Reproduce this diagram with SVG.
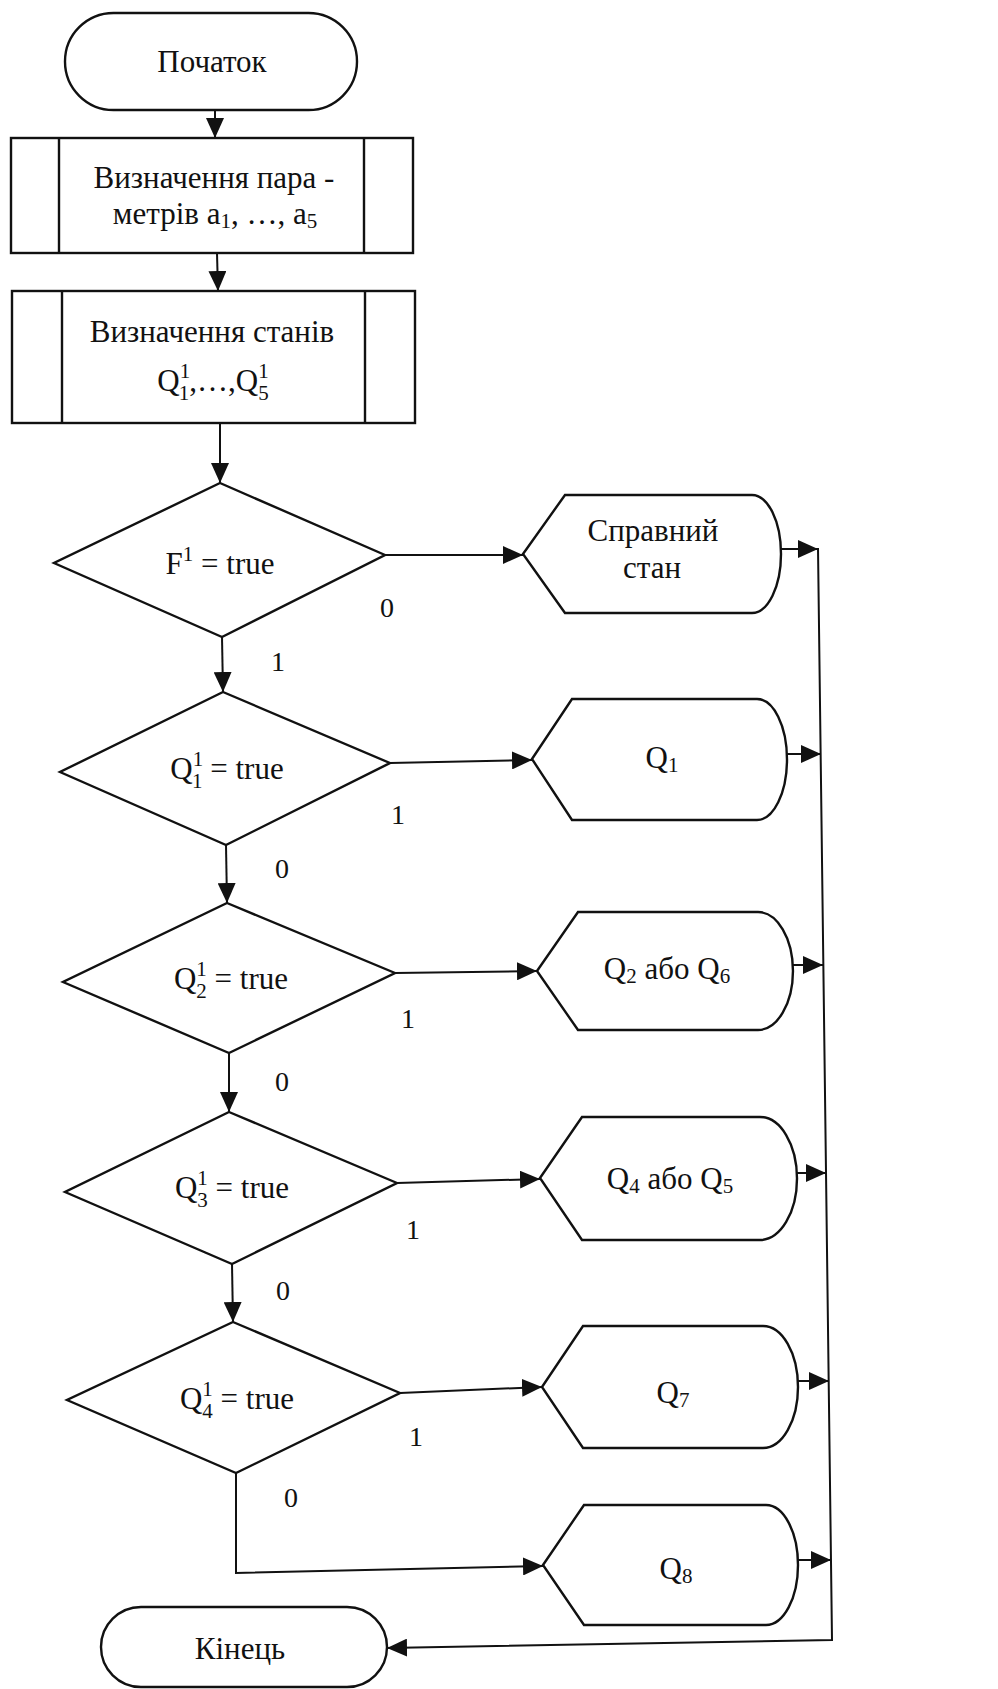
<svg xmlns="http://www.w3.org/2000/svg" width="998" height="1689" viewBox="0 0 998 1689">
<defs>
<style>
.s{fill:#fff;stroke:#111;stroke-width:2.4}
.c{fill:none;stroke:#111;stroke-width:2}
text{font-family:"Liberation Serif","Times New Roman",serif;fill:#111}
.t{font-size:31px;text-anchor:middle}
.l{font-size:28px;text-anchor:middle}
.sm{font-size:21px}
</style>
<marker id="ah" viewBox="0 0 20 18" refX="20" refY="9" markerWidth="20" markerHeight="18" markerUnits="userSpaceOnUse" orient="auto">
<path d="M0,0 L20,9 L0,18 Z" fill="#111"/>
</marker>
</defs>
<rect width="998" height="1689" fill="#fff"/>

<g id="connectors">
<line class="c" x1="215" y1="110" x2="215" y2="138" marker-end="url(#ah)"/>
<line class="c" x1="217" y1="253" x2="218" y2="291" marker-end="url(#ah)"/>
<line class="c" x1="220" y1="423" x2="220" y2="483" marker-end="url(#ah)"/>
<line class="c" x1="222" y1="637" x2="223" y2="692" marker-end="url(#ah)"/>
<line class="c" x1="226" y1="845" x2="227" y2="903" marker-end="url(#ah)"/>
<line class="c" x1="229" y1="1053" x2="229" y2="1112" marker-end="url(#ah)"/>
<line class="c" x1="232" y1="1264" x2="233" y2="1322" marker-end="url(#ah)"/>
<line class="c" x1="385" y1="555" x2="523" y2="555" marker-end="url(#ah)"/>
<line class="c" x1="390" y1="763" x2="532" y2="760" marker-end="url(#ah)"/>
<line class="c" x1="395" y1="973" x2="537" y2="971" marker-end="url(#ah)"/>
<line class="c" x1="397" y1="1183" x2="540" y2="1179" marker-end="url(#ah)"/>
<line class="c" x1="400" y1="1393" x2="542" y2="1387" marker-end="url(#ah)"/>
<polyline class="c" points="236,1473 236,1573 543,1566" marker-end="url(#ah)"/>
<line class="c" x1="781" y1="549" x2="818" y2="549" marker-end="url(#ah)"/>
<line class="c" x1="787" y1="754" x2="821" y2="754" marker-end="url(#ah)"/>
<line class="c" x1="793" y1="965" x2="823" y2="965" marker-end="url(#ah)"/>
<line class="c" x1="797" y1="1173" x2="826" y2="1173" marker-end="url(#ah)"/>
<line class="c" x1="798" y1="1381" x2="829" y2="1381" marker-end="url(#ah)"/>
<line class="c" x1="798" y1="1560" x2="831" y2="1560" marker-end="url(#ah)"/>
<polyline class="c" points="818,548 832,1640 387,1648" marker-end="url(#ah)"/>
<text class="l" x="387" y="617">0</text>
<text class="l" x="278" y="671">1</text>
<text class="l" x="398" y="824">1</text>
<text class="l" x="282" y="878">0</text>
<text class="l" x="408" y="1028">1</text>
<text class="l" x="282" y="1091">0</text>
<text class="l" x="413" y="1239">1</text>
<text class="l" x="283" y="1300">0</text>
<text class="l" x="416" y="1446">1</text>
<text class="l" x="291" y="1507">0</text>
</g>

<g id="start">
<rect class="s" x="65" y="13" width="292" height="97" rx="48.5"/>
<text class="t" x="212" y="72">Початок</text>
</g>

<g id="params">
<rect class="s" x="11" y="138" width="402" height="115"/>
<line class="s" x1="59" y1="138" x2="59" y2="253"/>
<line class="s" x1="364" y1="138" x2="364" y2="253"/>
<text class="t" x="214" y="188">Визначення пара -</text>
<text class="t" x="215" y="224">метрів a<tspan class="sm" dy="4">1</tspan><tspan dy="-4">, …, a</tspan><tspan class="sm" dy="4">5</tspan></text>
</g>

<g id="states">
<rect class="s" x="12" y="291" width="403" height="132"/>
<line class="s" x1="62" y1="291" x2="62" y2="423"/>
<line class="s" x1="365" y1="291" x2="365" y2="423"/>
<text class="t" x="212" y="342">Визначення станів</text>
<text class="t" x="213" y="391">Q<tspan class="sm" dy="-13">1</tspan><tspan class="sm" dx="-10.5" dy="22">1</tspan><tspan dy="-9">,…,Q</tspan><tspan class="sm" dy="-13">1</tspan><tspan class="sm" dx="-10.5" dy="22">5</tspan></text>
</g>

<g id="d1">
<polygon class="s" points="220,483 385,555 222,637 54,563"/>
<text class="t" x="220" y="574">F<tspan class="sm" dy="-13">1</tspan><tspan dy="13"> = true</tspan></text>
</g>
<g id="d2">
<polygon class="s" points="223,692 390,763 226,845 60,772"/>
<text class="t" x="227" y="779">Q<tspan class="sm" dy="-13">1</tspan><tspan class="sm" dx="-10.5" dy="22">1</tspan><tspan dy="-9"> = true</tspan></text>
</g>
<g id="d3">
<polygon class="s" points="227,903 395,973 229,1053 63,982"/>
<text class="t" x="231" y="989">Q<tspan class="sm" dy="-13">1</tspan><tspan class="sm" dx="-10.5" dy="22">2</tspan><tspan dy="-9"> = true</tspan></text>
</g>
<g id="d4">
<polygon class="s" points="229,1112 397,1183 232,1264 65,1192"/>
<text class="t" x="232" y="1198">Q<tspan class="sm" dy="-13">1</tspan><tspan class="sm" dx="-10.5" dy="22">3</tspan><tspan dy="-9"> = true</tspan></text>
</g>
<g id="d5">
<polygon class="s" points="233,1322 400,1393 236,1473 67,1400"/>
<text class="t" x="237" y="1409">Q<tspan class="sm" dy="-13">1</tspan><tspan class="sm" dx="-10.5" dy="22">4</tspan><tspan dy="-9"> = true</tspan></text>
</g>

<g id="h1">
<path class="s" d="M523,554 L565,495 H752 A29,59 0 0 1 752,613 H565 Z"/>
<text class="t" x="653" y="541">Справний</text>
<text class="t" x="652" y="578">стан</text>
</g>
<g id="h2">
<path class="s" d="M532,759 L572,699 H757 A30,60.5 0 0 1 757,820 H572 Z"/>
<text class="t" x="662" y="768">Q<tspan class="sm" dy="4">1</tspan></text>
</g>
<g id="h3">
<path class="s" d="M537,971 L578,912 H758 A35,59 0 0 1 758,1030 H578 Z"/>
<text class="t" x="667" y="979">Q<tspan class="sm" dy="4">2</tspan><tspan dy="-4"> або Q</tspan><tspan class="sm" dy="4">6</tspan></text>
</g>
<g id="h4">
<path class="s" d="M540,1178 L582,1117 H760 A37,61.5 0 0 1 760,1240 H582 Z"/>
<text class="t" x="670" y="1189">Q<tspan class="sm" dy="4">4</tspan><tspan dy="-4"> або Q</tspan><tspan class="sm" dy="4">5</tspan></text>
</g>
<g id="h5">
<path class="s" d="M542,1387 L583,1326 H763 A35,61 0 0 1 763,1448 H583 Z"/>
<text class="t" x="673" y="1403">Q<tspan class="sm" dy="4">7</tspan></text>
</g>
<g id="h6">
<path class="s" d="M543,1565 L584,1505 H766 A32,60 0 0 1 766,1625 H584 Z"/>
<text class="t" x="676" y="1579">Q<tspan class="sm" dy="4">8</tspan></text>
</g>

<g id="end">
<rect class="s" x="101" y="1607" width="286" height="80" rx="40"/>
<text class="t" x="240" y="1659">Кінець</text>
</g>
</svg>
